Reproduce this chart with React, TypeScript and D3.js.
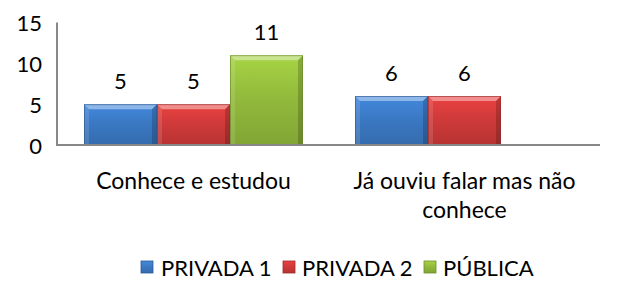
import React from "react";
import * as d3 from "d3";

const categories = ["Conhece e estudou", "Já ouviu falar mas não conhece"];
const categoryLines = [["Conhece e estudou"], ["Já ouviu falar mas não", "conhece"]];
const seriesNames = ["PRIVADA 1", "PRIVADA 2", "PÚBLICA"];
const privada1 = [5, 6];
const privada2 = [5, 6];
const publica = [11, null];
const yTicks = [0, 5, 10, 15];

const seriesValues = [privada1, privada2, publica];
const baseColors = ["#3b79c4", "#d03a3a", "#93bb3c"];

const W = 624;
const H = 298;
const FONT = "Lato, Calibri, 'Open Sans', sans-serif";

export default function App() {
  const plotLeft = 58;
  const plotRight = 600;
  const x0 = d3.scaleBand<string>().domain(categories).range([plotLeft, plotRight]).paddingInner(0).paddingOuter(0);
  const groupPad = 26;
  const x1 = d3
    .scaleBand<string>()
    .domain(seriesNames)
    .range([groupPad, x0.bandwidth() - groupPad])
    .padding(0);
  const y = d3.scaleLinear().domain([0, 15]).range([145, 22.5]);

  const bars: React.ReactNode[] = [];
  const labels: React.ReactNode[] = [];
  categories.forEach((cat, ci) => {
    seriesNames.forEach((s, si) => {
      const v = seriesValues[si][ci];
      if (v == null) return;
      const bx = (x0(cat) ?? 0) + (x1(s) ?? 0);
      const bw = x1.bandwidth();
      const by = y(v);
      const bh = y(0) - by;
      const b = 5; // bevel size
      bars.push(
        <g key={`${ci}-${si}`}>
          <rect x={bx} y={by} width={bw} height={bh} fill={`url(#grad${si})`} />
          {/* top bevel */}
          <polygon
            points={`${bx},${by} ${bx + bw},${by} ${bx + bw - b},${by + b} ${bx + b},${by + b}`}
            fill="#ffffff"
            opacity={0.4}
          />
          {/* left bevel */}
          <polygon
            points={`${bx},${by} ${bx + b},${by + b} ${bx + b},${by + bh} ${bx},${by + bh}`}
            fill="#ffffff"
            opacity={0.12}
          />
          {/* right bevel */}
          <polygon
            points={`${bx + bw},${by} ${bx + bw - b},${by + b} ${bx + bw - b},${by + bh} ${bx + bw},${by + bh}`}
            fill="#000000"
            opacity={0.18}
          />
          <rect x={bx + 0.5} y={by + 0.5} width={bw - 1} height={bh - 1} fill="none" stroke={d3.color(baseColors[si])!.darker(1).toString()} strokeOpacity={0.6} />
        </g>
      );
      labels.push(
        <text
          key={`l${ci}-${si}`}
          x={bx + bw / 2}
          y={by - 24}
          textAnchor="middle"
          dominantBaseline="central"
          fontSize={22}
          fill="#000"
        >
          {v}
        </text>
      );
    });
  });

  const legendItems = [
    { name: seriesNames[0], sq: 141, tx: 161 },
    { name: seriesNames[1], sq: 283, tx: 302 },
    { name: seriesNames[2], sq: 424, tx: 443 },
  ];

  return (
    <svg width={W} height={H} style={{ position: "absolute", left: 0, top: 0, background: "#fff" }} fontFamily={FONT}>
      <defs>
        {baseColors.map((c, i) => {
          const col = d3.color(c)!;
          return (
            <linearGradient key={i} id={`grad${i}`} x1="0" y1="0" x2="0" y2="1">
              <stop offset="0%" stopColor={col.brighter(0.35).toString()} />
              <stop offset="45%" stopColor={c} />
              <stop offset="100%" stopColor={col.darker(0.35).toString()} />
            </linearGradient>
          );
        })}
      </defs>
      <rect width={W} height={H} fill="#fff" />
      {yTicks.map((t) => (
        <text key={t} x={42} y={y(t)} textAnchor="end" dominantBaseline="central" fontSize={22} fill="#000">
          {t}
        </text>
      ))}
      {bars}
      <line x1={plotLeft - 1} x2={plotLeft - 1} y1={y(15)} y2={y(0) + 1} stroke="#888" strokeWidth={2} />
      <line x1={plotLeft - 2} x2={plotRight} y1={y(0)} y2={y(0)} stroke="#888" strokeWidth={2} />
      {labels}
      {categories.map((cat, ci) =>
        categoryLines[ci].map((ln, li) => (
          <text
            key={`${cat}-${li}`}
            x={(x0(cat) ?? 0) + x0.bandwidth() / 2}
            y={180 + li * 29}
            textAnchor="middle"
            dominantBaseline="central"
            fontSize={23}
            fill="#000"
          >
            {ln}
          </text>
        ))
      )}
      {legendItems.map((it, i) => (
        <g key={it.name}>
          <rect x={it.sq} y={261} width={12} height={12} fill={`url(#grad${i})`} stroke={d3.color(baseColors[i])!.darker(0.8).toString()} strokeWidth={0.8} />
          <text x={it.tx} y={267} dominantBaseline="central" fontSize={22} fill="#000">
            {it.name}
          </text>
        </g>
      ))}
    </svg>
  );
}
